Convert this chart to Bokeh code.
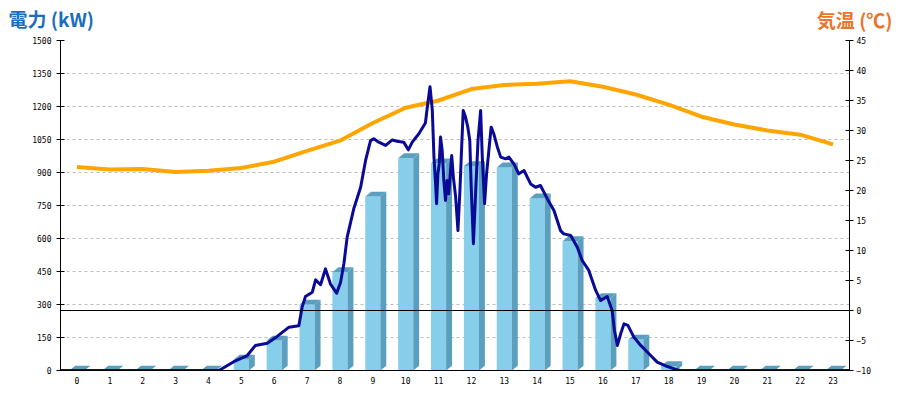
from bokeh.plotting import figure
from bokeh.models import Range1d, LinearAxis, FixedTicker, Span
from bokeh.layouts import column
from bokeh.core.properties import value
from bokeh.embed import file_html
from bokeh.resources import INLINE

# ---------------- data ----------------
hours = list(range(24))
hour_labels = [str(h) for h in hours]
power_bars = [0, 0, 0, 0, 0, 50, 136, 300, 447, 791, 965, 942, 929, 923,
              782, 588, 329, 141, 20, 0, 0, 0, 0, 0]
temperature = [23.9, 23.5, 23.6, 23.1, 23.3, 23.75, 24.8, 26.6, 28.3, 31.25,
               33.8, 35.0, 36.9, 37.6, 37.8, 38.2, 37.3, 36.0, 34.3, 32.3,
               31.0, 30.0, 29.3, 27.7]
power_time = [0.0, 4.82, 5.27, 5.68, 5.93, 6.29, 6.59, 6.95, 7.25, 7.35, 7.45,
              7.66, 7.76, 7.91, 8.06, 8.21, 8.40, 8.52, 8.62, 8.72, 8.92, 9.13,
              9.28, 9.43, 9.53, 9.68, 9.89, 10.09, 10.24, 10.44, 10.58, 10.70,
              10.90, 11.10, 11.16, 11.24, 11.31, 11.36, 11.41, 11.44, 11.48,
              11.52, 11.56, 11.61, 11.66, 11.71, 11.76, 11.81, 11.90, 11.95,
              12.02, 12.09, 12.15, 12.19, 12.25, 12.32, 12.39, 12.45, 12.49,
              12.56, 12.63, 12.70, 12.78, 12.83, 12.90, 12.96, 13.03, 13.10,
              13.18, 13.29, 13.39, 13.54, 13.64, 13.79, 13.94, 14.10, 14.30,
              14.45, 14.60, 14.81, 15.01, 15.21, 15.31, 15.52, 15.72, 15.87,
              16.07, 16.28, 16.43, 16.63, 16.78, 16.85, 16.94, 17.04, 17.14,
              17.26, 17.44, 17.65, 17.90, 18.15, 18.46, 18.76, 18.86, 24.0]
power_kw = [0, 0, 40, 68, 114, 124, 155, 197, 203, 288, 336,
            356, 412, 390, 462, 394, 351, 401, 485, 606, 735, 833,
            955, 1045, 1053, 1038, 1023, 1048, 1042, 1038, 1003, 1038,
            1076, 1125, 1200, 1290, 1182, 970, 848, 758, 894,
            939, 1061, 1000, 864, 773, 864, 803, 977, 879,
            788, 636, 818, 970, 1182, 1152, 1106, 1045, 848,
            576, 818, 1045, 1182, 970, 758, 894, 1000, 1106,
            1076, 1015, 970, 962, 970, 939, 894, 909, 848,
            833, 841, 780, 727, 636, 621, 614, 560, 500,
            455, 364, 318, 336, 273, 182, 114, 167, 212,
            205, 152, 114, 76, 38, 18, 3, 0, 0]
power_ticks = [0, 150, 300, 450, 600, 750, 900, 1050, 1200, 1350, 1500]
temp_ticks = [-10, -5, 0, 5, 10, 15, 20, 25, 30, 35, 40, 45]
title_power = "電力 (kW)"
title_temp = "気温 (℃)"

# ---------------- style ----------------
FRONT = "#87ceeb"
SIDE = "#5a9fbd"
HALF_W = 0.23       # half width of bar front (x units)
DEPTH_X = 0.18      # 3D depth offset (x units)
DEPTH_Y = 22        # 3D depth offset (kW units)
TICK_FONT = "DejaVu Sans Mono"
TITLE_FONT = "Noto Sans CJK JP"
W = 892
HEADER_H = 34

# ---------------- header (titles) ----------------
header = figure(width=W, height=HEADER_H, output_backend="svg",
                toolbar_location=None, tools="",
                x_range=Range1d(0, W), y_range=Range1d(HEADER_H, 0),
                x_axis_type=None, y_axis_type=None,
                min_border=0, min_border_left=0, min_border_right=0,
                min_border_top=0, min_border_bottom=0)
header.outline_line_color = None
header.grid.visible = False
header.text(x=[8], y=[18], text=[title_power], text_font=value(TITLE_FONT),
            text_font_style="bold", text_font_size="19px",
            text_color="#1a6ebd", text_baseline="middle", text_align="left")
header.text(x=[892], y=[19], text=[title_temp], text_font=value(TITLE_FONT),
            text_font_style="bold", text_font_size="19px",
            text_color="#e8762c", text_baseline="middle", text_align="right")

# ---------------- main chart ----------------
p = figure(width=W, height=392 - HEADER_H, output_backend="svg",
           toolbar_location=None, tools="",
           x_range=Range1d(-0.5, 23.5), y_range=Range1d(0, 1500),
           min_border_left=60, min_border_right=43,
           min_border_top=40 - HEADER_H, min_border_bottom=22)
p.outline_line_color = None
p.background_fill_color = "white"
p.border_fill_color = "white"
p.extra_y_ranges = {"temp": Range1d(-10, 45)}

# keep the header's frame independent of the chart's frame
for fig in (header, p):
    if "frame_align" in fig.properties():
        fig.frame_align = False

# grid
p.xgrid.grid_line_color = None
p.ygrid.grid_line_color = "#bdbdbd"
p.ygrid.grid_line_dash = "3 3"
p.ygrid.grid_line_width = 1

# axes
p.yaxis.ticker = FixedTicker(ticks=power_ticks)
p.yaxis.major_tick_in = 4
p.yaxis.major_tick_out = 4
p.yaxis.minor_tick_line_color = None
p.yaxis.axis_line_color = "black"
p.yaxis.major_label_text_font = TICK_FONT
p.yaxis.major_label_text_font_size = "8px"
p.yaxis.major_label_text_color = "black"
p.yaxis.major_label_standoff = 5

p.xaxis.ticker = FixedTicker(ticks=hours)
p.xaxis.major_label_overrides = {h: lab for h, lab in zip(hours, hour_labels)}
p.xaxis.major_tick_in = 0
p.xaxis.major_tick_out = 0
p.xaxis.minor_tick_line_color = None
p.xaxis.major_label_text_font = TICK_FONT
p.xaxis.major_label_text_font_size = "8px"
p.xaxis.major_label_text_color = "black"
p.xaxis.major_label_standoff = 6

raxis = LinearAxis(y_range_name="temp", ticker=FixedTicker(ticks=temp_ticks))
raxis.major_tick_in = 4
raxis.major_tick_out = 4
raxis.minor_tick_line_color = None
raxis.major_label_text_font = TICK_FONT
raxis.major_label_text_font_size = "8px"
raxis.major_label_text_color = "black"
raxis.major_label_standoff = 3
p.add_layout(raxis, "right")

# 3D bars
left = [h - HALF_W for h in hours]
right = [h + HALF_W for h in hours]
p.quad(left=left, right=right, bottom=0, top=power_bars,
       fill_color=FRONT, line_color=None)
side_xs = [[r, r, r + DEPTH_X, r + DEPTH_X] for r in right]
side_ys = [[0, v, v + DEPTH_Y, DEPTH_Y] for v in power_bars]
p.patches(side_xs, side_ys, fill_color=SIDE, line_color=None)
top_xs = [[l, r, r + DEPTH_X, l + DEPTH_X] for l, r in zip(left, right)]
top_ys = [[v, v, v + DEPTH_Y, v + DEPTH_Y] for v in power_bars]
p.patches(top_xs, top_ys, fill_color=SIDE, line_color=None)

# zero-degree line
p.add_layout(Span(location=0, dimension="width", y_range_name="temp",
                  line_color="black", line_width=1))

# temperature line
p.line(hours, temperature, y_range_name="temp", line_color="#ffa500",
       line_width=4)

# power line (time-of-day mapped over full width)
p.line([t - 0.5 for t in power_time], power_kw, line_color="#0a0a96",
       line_width=3, line_join="round")

layout = column(header, p, spacing=0)
open("out.html", "w").write(file_html(layout, INLINE))
